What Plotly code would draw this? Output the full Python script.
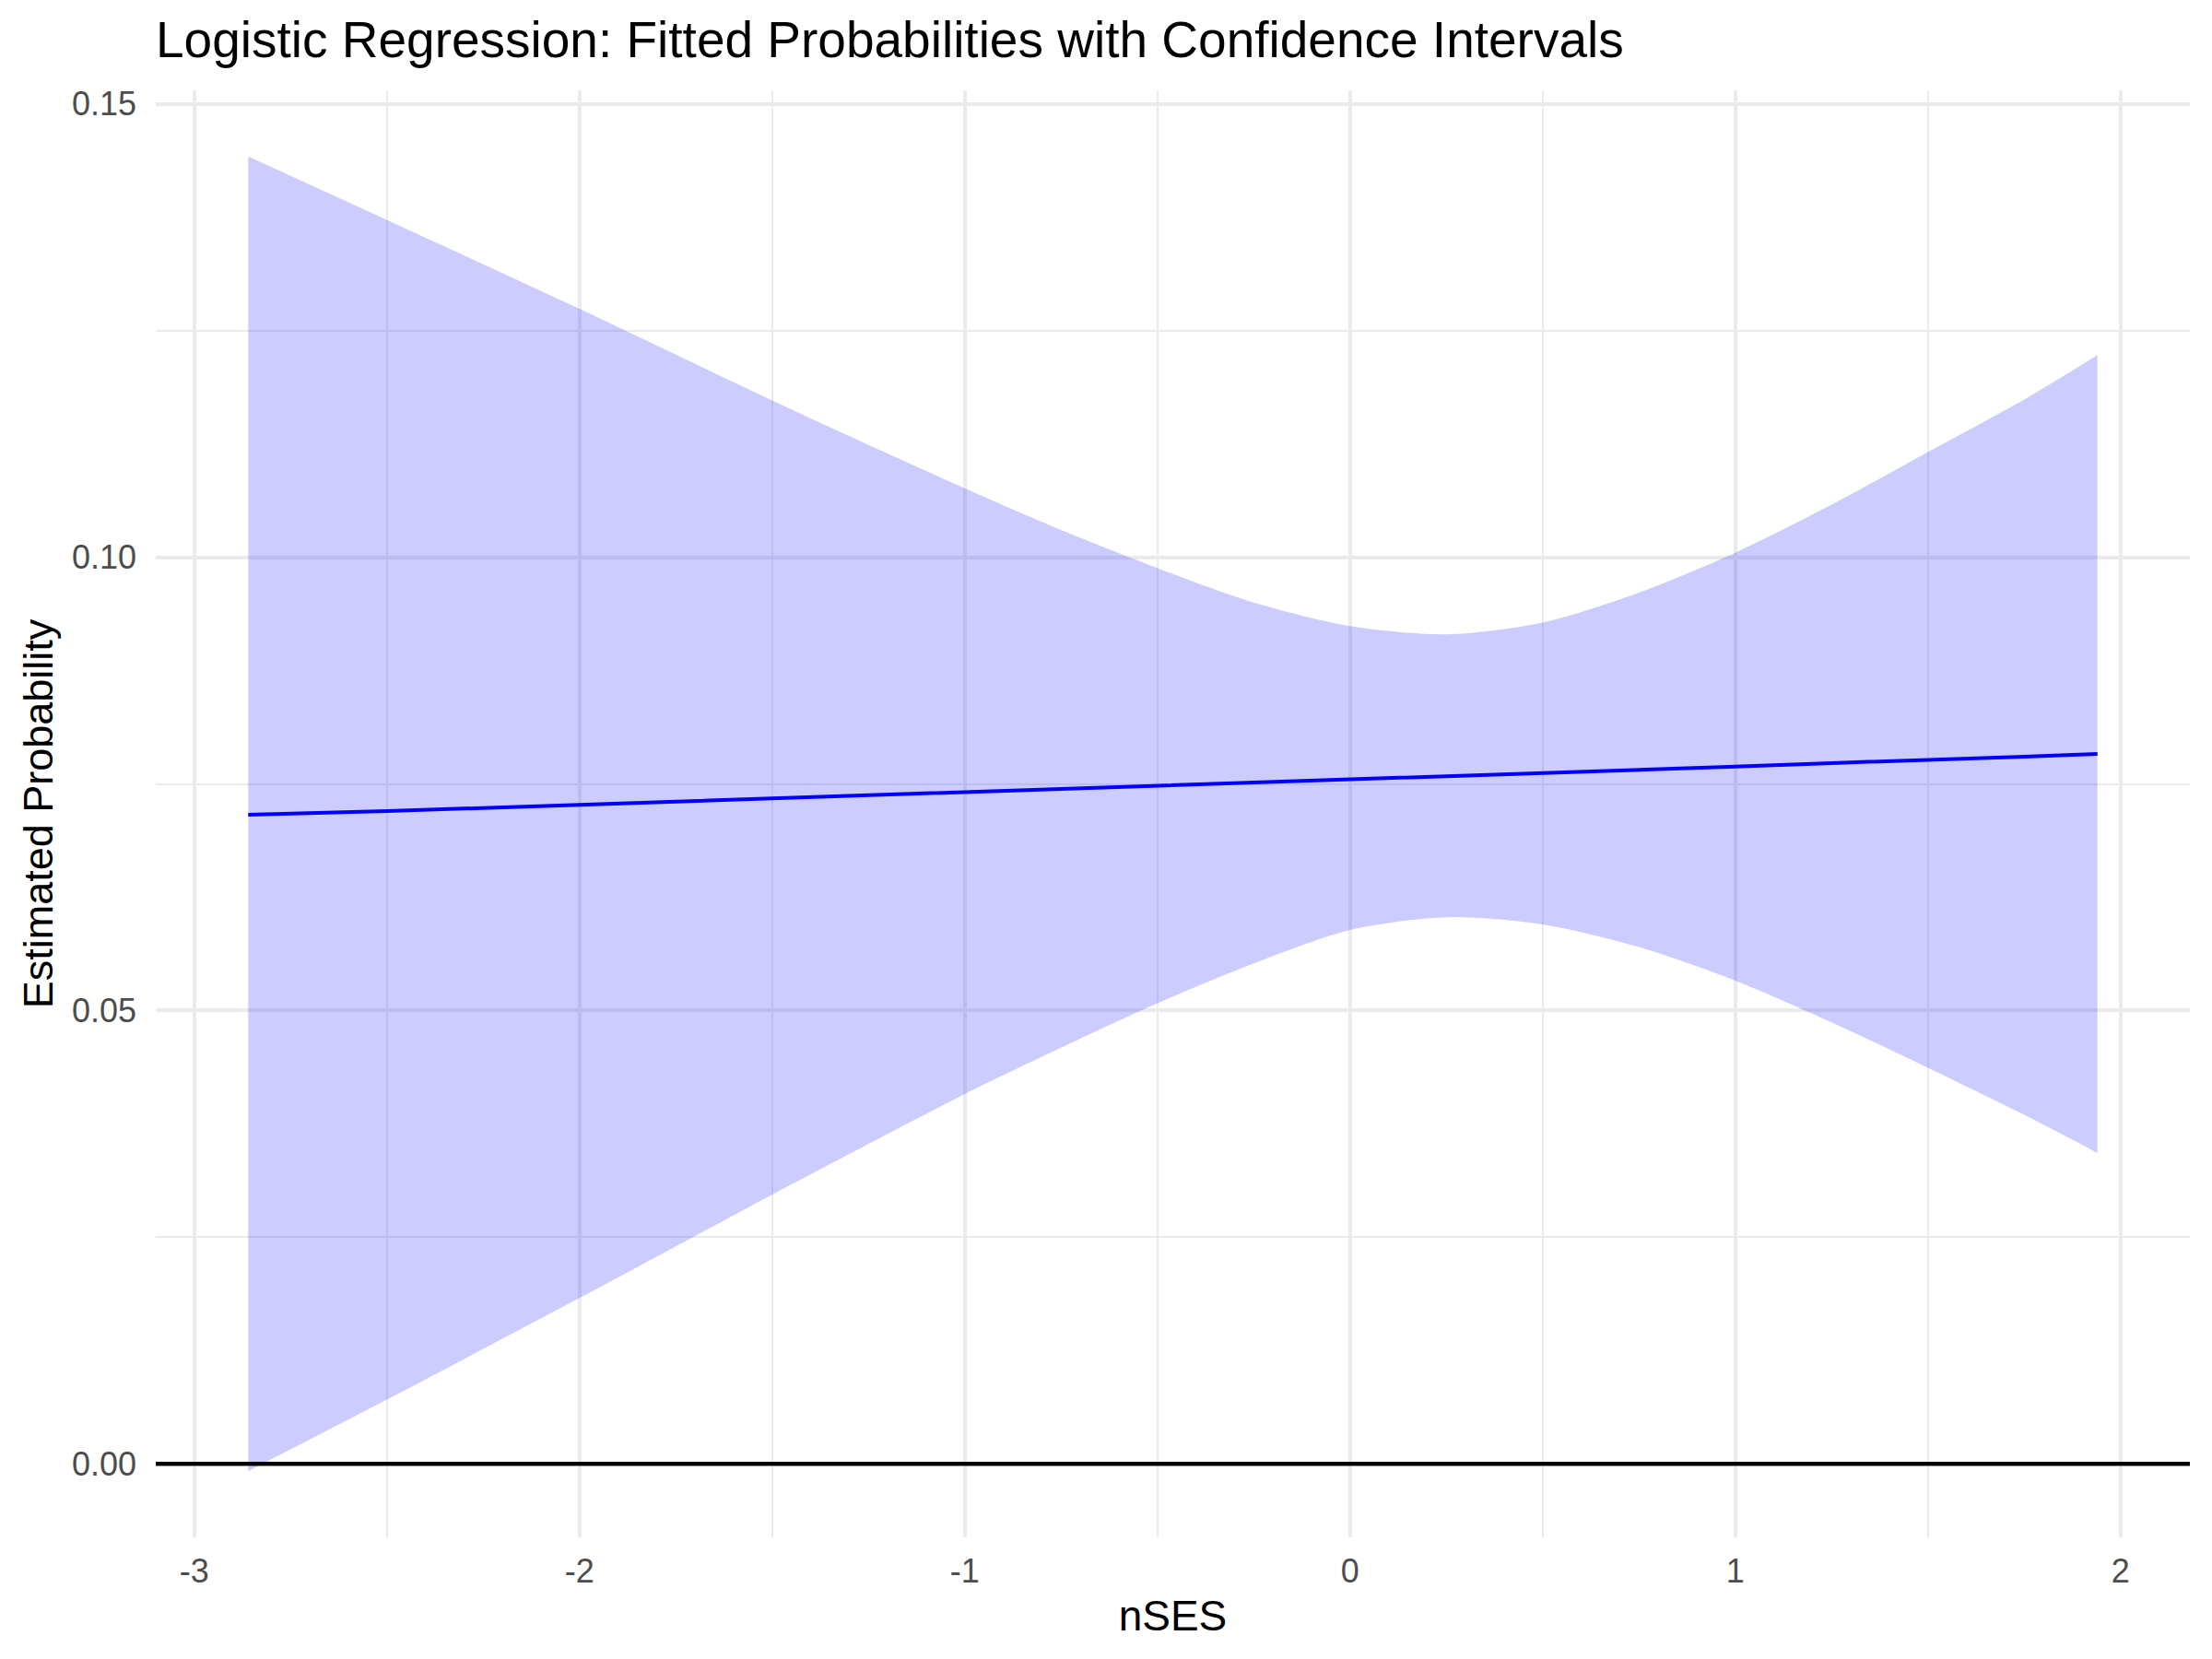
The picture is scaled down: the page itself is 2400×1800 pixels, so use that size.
import plotly.graph_objects as go

# Data
nses = [-2.86, -2.5, -2.0, -1.5, -1.0, -0.75, -0.5, -0.25, 0.0, 0.25, 0.5, 0.75, 1.0, 1.25, 1.5, 1.75, 1.94]
upper_ci = [0.1442, 0.1372, 0.1274, 0.1173, 0.1076, 0.1030, 0.0988, 0.0950, 0.0924, 0.0915,
            0.0928, 0.0961, 0.1005, 0.1058, 0.1116, 0.1174, 0.1223]
lower_ci = [-0.0008, 0.0071, 0.0183, 0.0297, 0.0408, 0.0459, 0.0508, 0.0552, 0.0589, 0.0603,
            0.0595, 0.0570, 0.0533, 0.0487, 0.0437, 0.0385, 0.0343]
fitted = [0.0716, 0.0720, 0.0727, 0.0734, 0.0741, 0.0744, 0.0748, 0.0751, 0.0754, 0.0758,
          0.0761, 0.0765, 0.0769, 0.0773, 0.0776, 0.0780, 0.0783]

x_ticks = [-3, -2, -1, 0, 1, 2]
y_ticks = [0.0, 0.05, 0.10, 0.15]
y_tick_text = ["0.00", "0.05", "0.10", "0.15"]

FONT = "Liberation Sans, Arial, Helvetica, sans-serif"
GRID = "#EBEBEB"

fig = go.Figure()
fig.add_trace(go.Scatter(
    x=nses, y=lower_ci, mode="lines",
    line=dict(width=0, shape="spline", smoothing=0.8),
    showlegend=False, hoverinfo="skip",
))
fig.add_trace(go.Scatter(
    x=nses, y=upper_ci, mode="lines",
    line=dict(width=0, shape="spline", smoothing=0.8),
    fill="tonexty", fillcolor="rgba(0,0,255,0.2)",
    showlegend=False, hoverinfo="skip",
))
fig.add_trace(go.Scatter(
    x=nses, y=fitted, mode="lines",
    line=dict(color="#0000FF", width=4),
    showlegend=False,
))

fig.add_shape(type="line", xref="paper", yref="y", x0=0, x1=1, y0=0, y1=0,
              line=dict(color="black", width=4.5), layer="above")

fig.update_layout(
    width=2400, height=1800,
    paper_bgcolor="white", plot_bgcolor="white",
    margin=dict(l=169, r=24, t=98, b=132),
    font=dict(family=FONT, color="black"),
    title=dict(
        text="Logistic Regression: Fitted Probabilities with Confidence Intervals",
        font=dict(size=55, color="black", family=FONT),
        xref="paper", x=0, xanchor="left",
        yref="container", y=1 - 43 / 1800, yanchor="middle",
    ),
    xaxis=dict(
        range=[-3.10, 2.18],
        tickvals=x_ticks,
        ticktext=[str(v) for v in x_ticks],
        showgrid=True, gridcolor=GRID, gridwidth=4,
        minor=dict(dtick=0.5, tick0=0, showgrid=True, gridcolor=GRID, gridwidth=2),
        zeroline=False, showline=False, ticks="",
        tickfont=dict(size=36, color="#4D4D4D", family=FONT),
        ticklabelstandoff=12,
        automargin=False,
        title=dict(text="nSES", font=dict(size=46, color="black", family=FONT), standoff=12),
    ),
    yaxis=dict(
        range=[-0.0081, 0.1515],
        tickvals=y_ticks,
        ticktext=y_tick_text,
        showgrid=True, gridcolor=GRID, gridwidth=4,
        minor=dict(dtick=0.025, tick0=0, showgrid=True, gridcolor=GRID, gridwidth=2),
        zeroline=False, showline=False, ticks="",
        tickfont=dict(size=36, color="#4D4D4D", family=FONT),
        ticklabelstandoff=20,
        automargin=False,
        title=dict(text="Estimated Probability", font=dict(size=45, color="black", family=FONT), standoff=6),
    ),
)

fig.write_html("out.html", config={"displayModeBar": False},
               post_script="document.body.style.margin='0';")
